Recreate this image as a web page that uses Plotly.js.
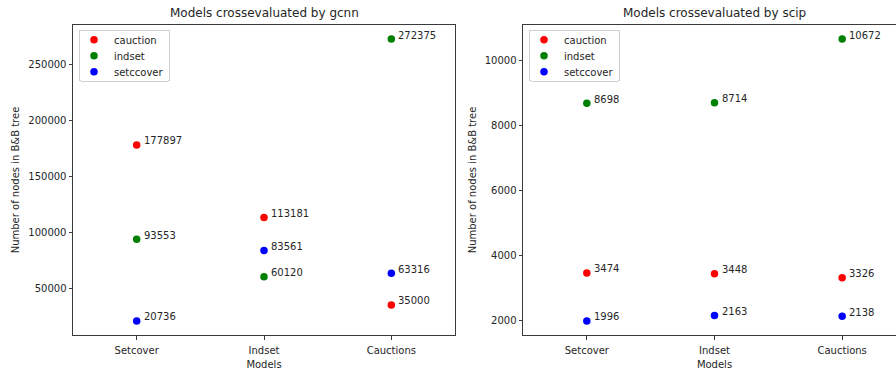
<!DOCTYPE html>
<html>
<head>
<meta charset="utf-8">
<script src="https://cdn.plot.ly/plotly-3.0.1.min.js"></script>
<style>
html,body{margin:0;padding:0;overflow:hidden;background:#fff;}
#chart{width:906px;height:372px;}
</style>
</head>
<body>
<div id="chart"></div>
<script>
const categories = ["Setcover", "Indset", "Cauctions"];
const seriesNames = ["cauction", "indset", "setccover"];
const seriesColors = ["red", "green", "blue"];

const gcnnCauction = [177897, 113181, 35000];
const gcnnIndset = [93553, 60120, 272375];
const gcnnSetcover = [20736, 83561, 63316];

const scipCauction = [3474, 3448, 3326];
const scipIndset = [8698, 8714, 10672];
const scipSetcover = [1996, 2163, 2138];

const gcnnTicks = [50000, 100000, 150000, 200000, 250000];
const scipTicks = [2000, 4000, 6000, 8000, 10000];

const gcnnSeries = [gcnnCauction, gcnnIndset, gcnnSetcover];
const scipSeries = [scipCauction, scipIndset, scipSetcover];

function yRange(series) {
  const all = [].concat(...series);
  const mn = Math.min(...all), mx = Math.max(...all);
  const pad = (mx - mn) * 0.05;
  return [mn - pad, mx + pad];
}

const traces = [];
const annotations = [];
const textFont = {family: "DejaVu Sans", size: 10, color: "#262626"};

function addPanel(series, xa, ya, legendId) {
  series.forEach((vals, i) => {
    traces.push({
      type: "scatter", mode: "markers",
      x: categories, y: vals,
      xaxis: xa, yaxis: ya,
      name: seriesNames[i],
      legend: legendId,
      marker: {color: seriesColors[i], size: 7.5},
      hoverinfo: "x+y"
    });
    vals.forEach((v, j) => {
      annotations.push({
        x: categories[j], y: v, xref: xa, yref: ya,
        text: String(v), showarrow: false,
        xanchor: "left", yanchor: "middle",
        xshift: 5, yshift: 4, font: textFont
      });
    });
  });
}
addPanel(gcnnSeries, "x", "y", "legend");
addPanel(scipSeries, "x2", "y2", "legend2");

const W = 906;
annotations.push({
  text: "Models crossevaluated by gcnn", xref: "paper", yref: "paper",
  x: (73 + 455) / 2 / W, y: 1.0, yshift: 3, xanchor: "center", yanchor: "bottom",
  showarrow: false, font: {family: "DejaVu Sans", size: 12, color: "#262626"}
});
annotations.push({
  text: "Models crossevaluated by scip", xref: "paper", yref: "paper",
  x: (523 + 906) / 2 / W, y: 1.0, yshift: 3, xanchor: "center", yanchor: "bottom",
  showarrow: false, font: {family: "DejaVu Sans", size: 12, color: "#262626"}
});

const axisCommon = {
  showline: true, mirror: true, linecolor: "#3a3a3a", linewidth: 1,
  ticks: "outside", ticklen: 3.5, tickcolor: "#3a3a3a", tickwidth: 1,
  showgrid: false, zeroline: false,
  tickfont: {family: "DejaVu Sans", size: 10, color: "#262626"}
};
const xTitle = {text: "Models", font: {family: "DejaVu Sans", size: 10, color: "#262626"}, standoff: 6};
const yTitle = {text: "Number of nodes in B&amp;B tree", font: {family: "DejaVu Sans", size: 10, color: "#262626"}, standoff: 6};

const legendCommon = {
  bgcolor: "rgba(255,255,255,0.8)", bordercolor: "#d0d0d0", borderwidth: 1,
  font: {family: "DejaVu Sans", size: 10, color: "#262626"},
  xanchor: "left", yanchor: "top", tracegroupgap: 0, itemwidth: 30
};

const layout = {
  width: W, height: 372,
  margin: {l: 0, r: 0, t: 25, b: 37},
  paper_bgcolor: "#fff", plot_bgcolor: "#fff",
  showlegend: true,
  xaxis: Object.assign({}, axisCommon, {domain: [73 / W, 455 / W], type: "category", range: [-0.5, 2.5], title: xTitle, anchor: "y", ticklabelstandoff: 2}),
  yaxis: Object.assign({}, axisCommon, {range: yRange(gcnnSeries), tickvals: gcnnTicks, ticktext: gcnnTicks.map(String), title: yTitle, anchor: "x"}),
  xaxis2: Object.assign({}, axisCommon, {domain: [523 / W, 1], type: "category", range: [-0.5, 2.5], title: xTitle, anchor: "y2", ticklabelstandoff: 2}),
  yaxis2: Object.assign({}, axisCommon, {range: yRange(scipSeries), tickvals: scipTicks, ticktext: scipTicks.map(String), title: yTitle, anchor: "x2"}),
  legend: Object.assign({}, legendCommon, {x: 79 / W, y: 0.985}),
  legend2: Object.assign({}, legendCommon, {x: 529 / W, y: 0.985}),
  annotations: annotations
};

const gd = document.getElementById("chart");
Plotly.newPlot(gd, traces, layout, {displayModeBar: false, staticPlot: true}).then(() => {
  // tighten legend spacing to match the compact matplotlib legend
  ["legend", "legend2"].forEach(id => {
    const g = gd.querySelector("g." + id);
    if (!g) return;
    const items = g.querySelectorAll("g.traces");
    items.forEach((t, i) => {
      t.setAttribute("transform", "translate(-5," + (10 + 16 * i) + ")");
    });
    const bg = g.querySelector("rect.bg");
    if (bg) { bg.setAttribute("height", 51); bg.setAttribute("width", 90); bg.setAttribute("rx", 2); bg.setAttribute("ry", 2); }
  });
});
</script>
</body>
</html>
